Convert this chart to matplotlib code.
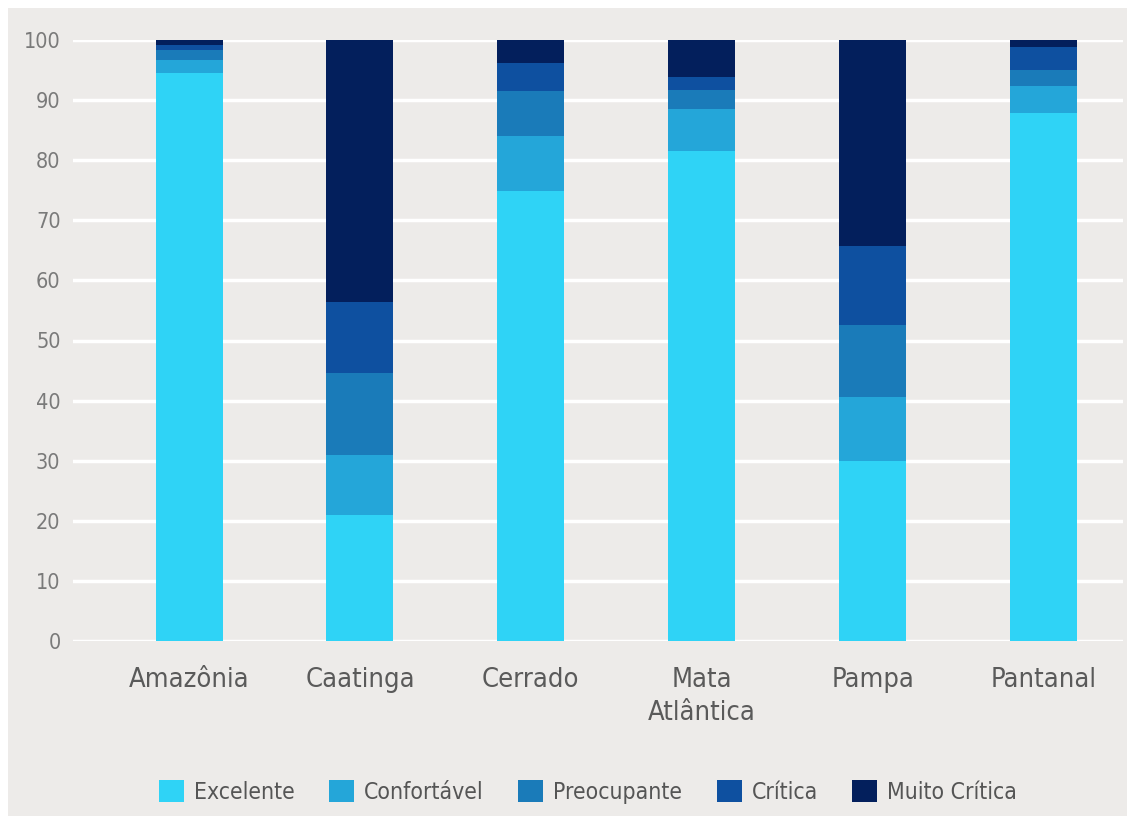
import matplotlib
matplotlib.use("Agg")
import matplotlib.pyplot as plt
from matplotlib.patches import Rectangle
import numpy as np

plt.rcParams['font.family'] = ['DejaVu Sans']
plt.rcParams['font.stretch'] = 'condensed'

# =============================================================================
#  DONNEES
# =============================================================================
biomas = ["Amazônia", "Caatinga", "Cerrado", "Mata\nAtlântica", "Pampa", "Pantanal"]
classes = ["Excelente", "Confortável", "Preocupante", "Crítica", "Muito Crítica"]

excelente = [94.5, 21.0, 74.8, 81.5, 30.0, 87.8]
confortavel = [2.1, 10.0, 9.3, 7.0, 10.6, 4.5]
preocupante = [1.8, 13.6, 7.4, 3.2, 12.0, 2.7]
critica = [0.7, 11.8, 4.6, 2.1, 13.1, 3.8]
muito_critica = [0.9, 43.6, 3.9, 6.2, 34.3, 1.2]

cores = ["#2fd3f6", "#24a6d9", "#1a7bb9", "#0e50a0", "#031f5c"]
bg = "#edebe9"

# =============================================================================
#  PLOTTING
# =============================================================================
fig = plt.figure(figsize=(11.32, 8.16), dpi=100, facecolor="white")
fig.patches.append(Rectangle((8 / 1132, 0), 1 - 13 / 1132, 1 - 8 / 816,
                             transform=fig.transFigure, facecolor=bg,
                             edgecolor="none", zorder=-10))
ax = fig.add_axes([73 / 1132, 1 - 641 / 816, 1050 / 1132, 601 / 816])
ax.set_facecolor(bg)

x = np.arange(len(biomas))
series = [excelente, confortavel, preocupante, critica, muito_critica]
bottom = np.zeros(len(biomas))
for vals, cor, nome in zip(series, cores, classes):
    ax.bar(x, vals, width=0.392, bottom=bottom, color=cor, label=nome, zorder=3)
    bottom += np.array(vals)

ax.set_ylim(0, 100)
ax.set_xlim(-0.679, 5.465)
ax.set_yticks(range(0, 101, 10))
ax.yaxis.grid(True, color="white", linewidth=2.5, zorder=0)
ax.set_axisbelow(True)
for s in ax.spines.values():
    s.set_visible(False)
ax.tick_params(axis="y", length=0, pad=9, labelsize=15.5, labelcolor="#7a7a7a")
ax.tick_params(axis="x", length=0, pad=19, labelsize=19.5, labelcolor="#5a5a5a")
ax.set_xticks(x)
ax.set_xticklabels(biomas, linespacing=1.35)

leg = fig.legend(loc="center", bbox_to_anchor=(588 / 1132, 1 - 792 / 816), ncol=5,
                 frameon=False, fontsize=16.5, handlelength=1.09, handleheight=1.09,
                 handletextpad=0.44, columnspacing=1.5)
for t in leg.get_texts():
    t.set_color("#555555")

fig.savefig("out.png", dpi=100, facecolor=fig.get_facecolor())
